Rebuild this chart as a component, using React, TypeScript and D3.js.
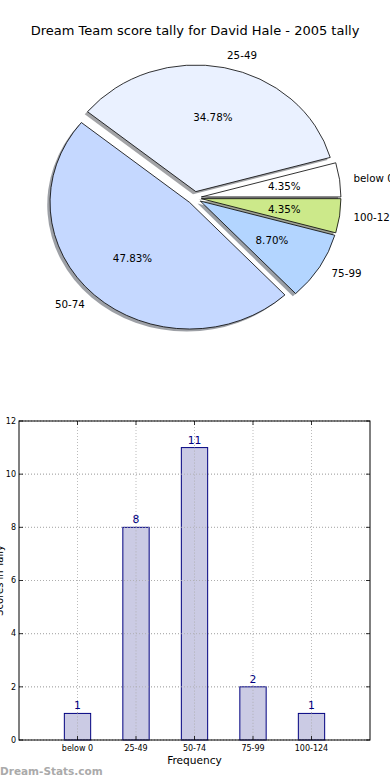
import React from "react";
import * as d3 from "d3";

const TITLE = "Dream Team score tally for David Hale - 2005 tally";
const categories = ["below 0", "25-49", "50-74", "75-99", "100-124"];
const counts = [1, 8, 11, 2, 1];
const pieColors = ["#ffffff", "#eaf1ff", "#c5d8ff", "#b3d5ff", "#cce98a"];
const yTicks = [0, 2, 4, 6, 8, 10, 12];
const xLabel = "Frequency";
const yLabel = "Scores in Tally";
const watermark = "Dream-Stats.com";

const W = 390;
const H = 780;
const FONT = "DejaVu Sans, sans-serif";

export default function App() {
  const cx = 194.4;
  const cy = 197.8;
  const sx = 139.6;
  const sy = 126.6;
  const explode = 0.05;
  const ky = sy / sx;

  const pie = d3
    .pie<number>()
    .sort(null)
    .value((d) => d)
    .startAngle(Math.PI / 2)
    .endAngle(Math.PI / 2 - 2 * Math.PI);
  const arcs = pie(counts);
  const total = d3.sum(counts);
  const arcGen = d3.arc<any>().innerRadius(0).outerRadius(sx);

  const wedges = arcs.map((a, i) => {
    const mid = (a.startAngle + a.endAngle) / 2;
    const ux = Math.sin(mid);
    const uy = -Math.cos(mid);
    const ox = ux * explode * sx;
    const oy = uy * explode * sx;
    return { a, i, ux, uy, ox, oy };
  });

  const x = d3.scaleLinear().domain([-1, 5]).range([19, 370]);
  const y = d3.scaleLinear().domain([0, 12]).range([740, 421]);
  const barW = 0.45;
  const top = y(12);
  const bottom = y(0);
  const left = x(-1);
  const right = x(5);

  return (
    <svg
      width={W}
      height={H}
      style={{ position: "absolute", left: 0, top: 0, background: "#fff" }}
      fontFamily={FONT}
    >
      <rect x={0} y={0} width={W} height={H} fill="#fff" />
      <text x={195} y={34.5} textAnchor="middle" fontSize={13} fill="#000">
        {TITLE}
      </text>

      <g transform={`translate(${cx},${cy}) scale(1,${ky})`}>
        {wedges.map((w) => {
          const c = d3.rgb(pieColors[w.i]);
          const sc = d3.rgb(c.r * 0.3, c.g * 0.3, c.b * 0.3);
          return (
            <path
              key={"s" + w.i}
              d={arcGen(w.a) as string}
              transform={`translate(${w.ox - 0.02 * sx},${w.oy + 0.02 * sx})`}
              fill={sc.toString()}
              fillOpacity={0.5}
              stroke="none"
            />
          );
        })}
        {wedges.map((w) => (
          <path
            key={"w" + w.i}
            d={arcGen(w.a) as string}
            transform={`translate(${w.ox},${w.oy})`}
            fill={pieColors[w.i]}
            stroke="#000"
            strokeWidth={0.8}
            vectorEffect="non-scaling-stroke"
            strokeLinejoin="round"
          />
        ))}
      </g>
      {wedges.map((w) => {
        const lx = cx + sx * (explode + 1.1) * w.ux;
        const ly = cy + sy * (explode + 1.1) * w.uy;
        const px = cx + sx * (explode + 0.6) * w.ux;
        const py = cy + sy * (explode + 0.6) * w.uy;
        const pct = ((counts[w.i] / total) * 100).toFixed(2) + "%";
        return (
          <g key={"t" + w.i} fontSize={10.3} fill="#000">
            <text
              x={lx}
              y={ly}
              dy="0.35em"
              textAnchor={w.ux > 0 ? "start" : "end"}
            >
              {categories[w.i]}
            </text>
            <text x={px} y={py} dy="0.35em" textAnchor="middle">
              {pct}
            </text>
          </g>
        );
      })}

      <g stroke="#aaa" strokeWidth={0.8} strokeDasharray="1,2">
        {yTicks.map((t) => (
          <line key={"gy" + t} x1={left} x2={right} y1={y(t)} y2={y(t)} />
        ))}
        {categories.map((c, i) => (
          <line key={"gx" + c} x1={x(i)} x2={x(i)} y1={top} y2={bottom} />
        ))}
      </g>

      {counts.map((v, i) => (
        <rect
          key={"b" + i}
          x={x(i - barW / 2)}
          width={x(barW) - x(0)}
          y={y(v)}
          height={bottom - y(v)}
          fill="#cbcbe4"
          stroke="#000080"
          strokeWidth={1}
        />
      ))}
      <g stroke="#aaa" strokeWidth={0.8} strokeDasharray="1,2">
        {categories.map((c, i) => (
          <line
            key={"gx2" + c}
            x1={x(i)}
            x2={x(i)}
            y1={y(counts[i])}
            y2={bottom}
          />
        ))}
        {yTicks.map((t) => (
          <line key={"gy2" + t} x1={left} x2={right} y1={y(t)} y2={y(t)} />
        ))}
      </g>
      {counts.map((v, i) => (
        <text
          key={"v" + i}
          x={x(i)}
          y={y(v) - 4}
          textAnchor="middle"
          fontSize={10.8}
          fill="#000080"
        >
          {v}
        </text>
      ))}

      <rect
        x={left}
        y={top}
        width={right - left}
        height={bottom - top}
        fill="none"
        stroke="#000"
        strokeWidth={1}
      />
      <g stroke="#000" strokeWidth={0.8}>
        {yTicks.map((t) => (
          <g key={"ty" + t}>
            <line x1={left} x2={left + 4} y1={y(t)} y2={y(t)} />
            <line x1={right} x2={right - 4} y1={y(t)} y2={y(t)} />
          </g>
        ))}
        {categories.map((c, i) => (
          <g key={"tx" + c}>
            <line x1={x(i)} x2={x(i)} y1={bottom} y2={bottom - 4} />
            <line x1={x(i)} x2={x(i)} y1={top} y2={top + 4} />
          </g>
        ))}
      </g>
      {yTicks.map((t) => (
        <text
          key={"yl" + t}
          x={left - 3}
          y={y(t)}
          dy="0.35em"
          textAnchor="end"
          fontSize={8}
          fill="#000"
        >
          {t}
        </text>
      ))}
      {categories.map((c, i) => (
        <text
          key={"xl" + c}
          x={x(i)}
          y={bottom + 11}
          textAnchor="middle"
          fontSize={8}
          fill="#000"
        >
          {c}
        </text>
      ))}
      <text
        x={x(2)}
        y={bottom + 24}
        textAnchor="middle"
        fontSize={10.6}
        fill="#000"
      >
        {xLabel}
      </text>
      <text
        transform={`translate(3,${(top + bottom) / 2}) rotate(-90)`}
        textAnchor="middle"
        fontSize={10}
        fill="#000"
      >
        {yLabel}
      </text>

      <text x={0} y={775} fontSize={10.5} fontWeight="bold" fill="#aaa">
        {watermark}
      </text>
    </svg>
  );
}
